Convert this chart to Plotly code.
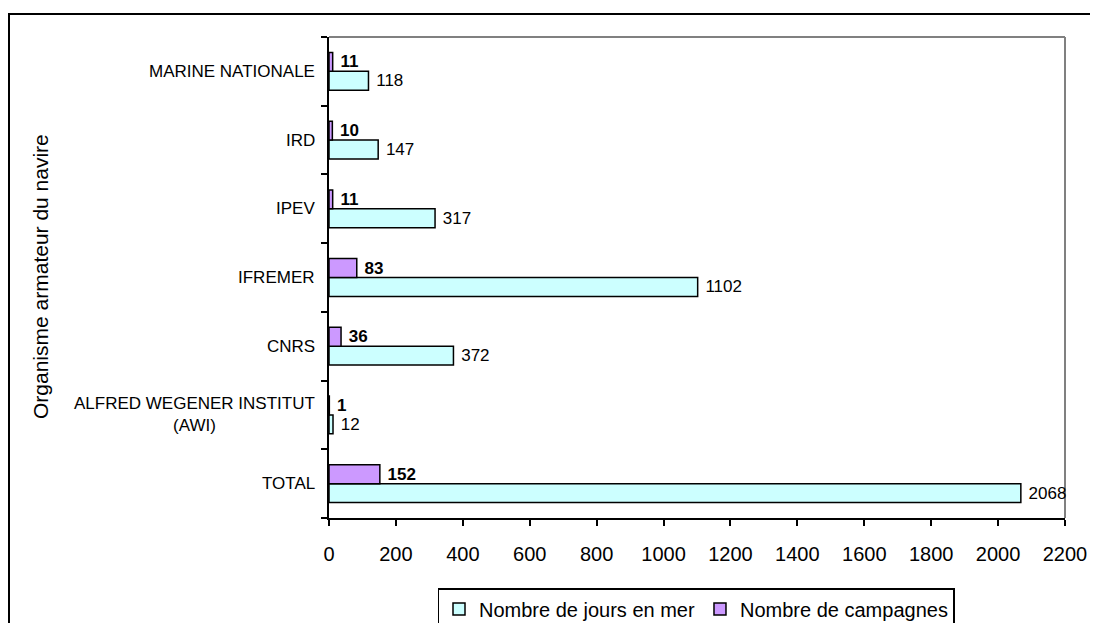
import plotly.graph_objects as go

categories = ["TOTAL", "ALFRED WEGENER INSTITUT<br>(AWI)", "CNRS", "IFREMER", "IPEV", "IRD", "MARINE NATIONALE"]
jours_en_mer = [2068, 12, 372, 1102, 317, 147, 118]
campagnes = [152, 1, 36, 83, 11, 10, 11]
x_ticks = [0, 200, 400, 600, 800, 1000, 1200, 1400, 1600, 1800, 2000, 2200]
series_names = ["Nombre de jours en mer", "Nombre de campagnes"]
y_title = "Organisme armateur du navire"

# The page body has an 8px margin, so figure pixel = page pixel - 8
OFF = 8
W, H = 1090, 615
L, T = 329 - OFF, 37 - OFF
pw, ph = 736, 481
R = W - L - pw
B = H - T - ph
FONT = "Liberation Sans, Arial, sans-serif"

def px_to_paper_x(page_px):
    return (page_px - OFF - L) / pw

def px_to_paper_y(page_py):
    return (T + ph - (page_py - OFF)) / ph

fig = go.Figure()
fig.add_trace(go.Bar(
    y=categories, x=jours_en_mer, orientation="h", name=series_names[0],
    marker=dict(color="#CCFFFF", line=dict(color="black", width=1.5)),
    texttemplate="\u00a0%{x}", textposition="outside", constraintext="none", cliponaxis=False,
    textfont=dict(family=FONT, size=17, color="black"),
))
fig.add_trace(go.Bar(
    y=categories, x=campagnes, orientation="h", name=series_names[1],
    marker=dict(color="#CC99FF", line=dict(color="black", width=1.5)),
    texttemplate="\u00a0%{x}", textposition="outside", constraintext="none", cliponaxis=False,
    textfont=dict(family=FONT, size=17, color="black", weight="bold"),
))

annotations = []
for c in categories:
    annotations.append(dict(
        xref="paper", yref="y", x=0, y=c, xshift=-12, xanchor="right", yanchor="middle",
        text=c, align="center", showarrow=False,
        font=dict(family=FONT, size=17, color="black"),
    ))
annotations.append(dict(
    xref="paper", yref="paper", x=px_to_paper_x(40), y=px_to_paper_y(277), xanchor="center", yanchor="middle",
    text=y_title, textangle=-90, showarrow=False,
    font=dict(family=FONT, size=21, color="black"),
))

shapes = [
    # outer chart border
    dict(type="rect", xref="paper", yref="paper",
         x0=px_to_paper_x(9), x1=px_to_paper_x(1120),
         y0=px_to_paper_y(14), y1=px_to_paper_y(650),
         line=dict(color="black", width=2), fillcolor="rgba(0,0,0,0)", layer="below"),
    # plot area top and right (gray)
    dict(type="line", xref="paper", yref="paper", x0=0, x1=1, y0=1, y1=1,
         line=dict(color="#808080", width=2), layer="below"),
    dict(type="line", xref="paper", yref="paper", x0=1, x1=1, y0=0, y1=1,
         line=dict(color="#808080", width=2), layer="below"),
]

fig.update_layout(
    width=W, height=H,
    margin=dict(l=L, r=R, t=T, b=B, autoexpand=False),
    paper_bgcolor="white", plot_bgcolor="white",
    barmode="group", bargap=0.45, bargroupgap=0,
    font=dict(family=FONT, color="black"),
    showlegend=True,
    legend=dict(
        orientation="h", x=px_to_paper_x(696), xanchor="center",
        y=px_to_paper_y(588), yanchor="top",
        bgcolor="white", bordercolor="black", borderwidth=1.5,
        font=dict(family=FONT, size=20, color="black"),
        traceorder="normal", itemwidth=30,
    ),
    xaxis=dict(
        range=[0, 2200], tickvals=x_ticks, ticktext=[str(v) for v in x_ticks],
        showgrid=False, zeroline=False, showline=True, linecolor="black", linewidth=2,
        ticks="outside", ticklen=6, tickwidth=2, tickcolor="black",
        ticklabelstandoff=11,
        tickfont=dict(family=FONT, size=20, color="black"),
    ),
    yaxis=dict(
        type="category", categoryorder="array", categoryarray=categories,
        showgrid=False, zeroline=False, showline=True, linecolor="black", linewidth=2,
        ticks="outside", ticklen=6, tickwidth=2, tickcolor="black",
        tickson="boundaries", showticklabels=False,
    ),
    annotations=annotations,
    shapes=shapes,
)

fig.write_html("out.html")
